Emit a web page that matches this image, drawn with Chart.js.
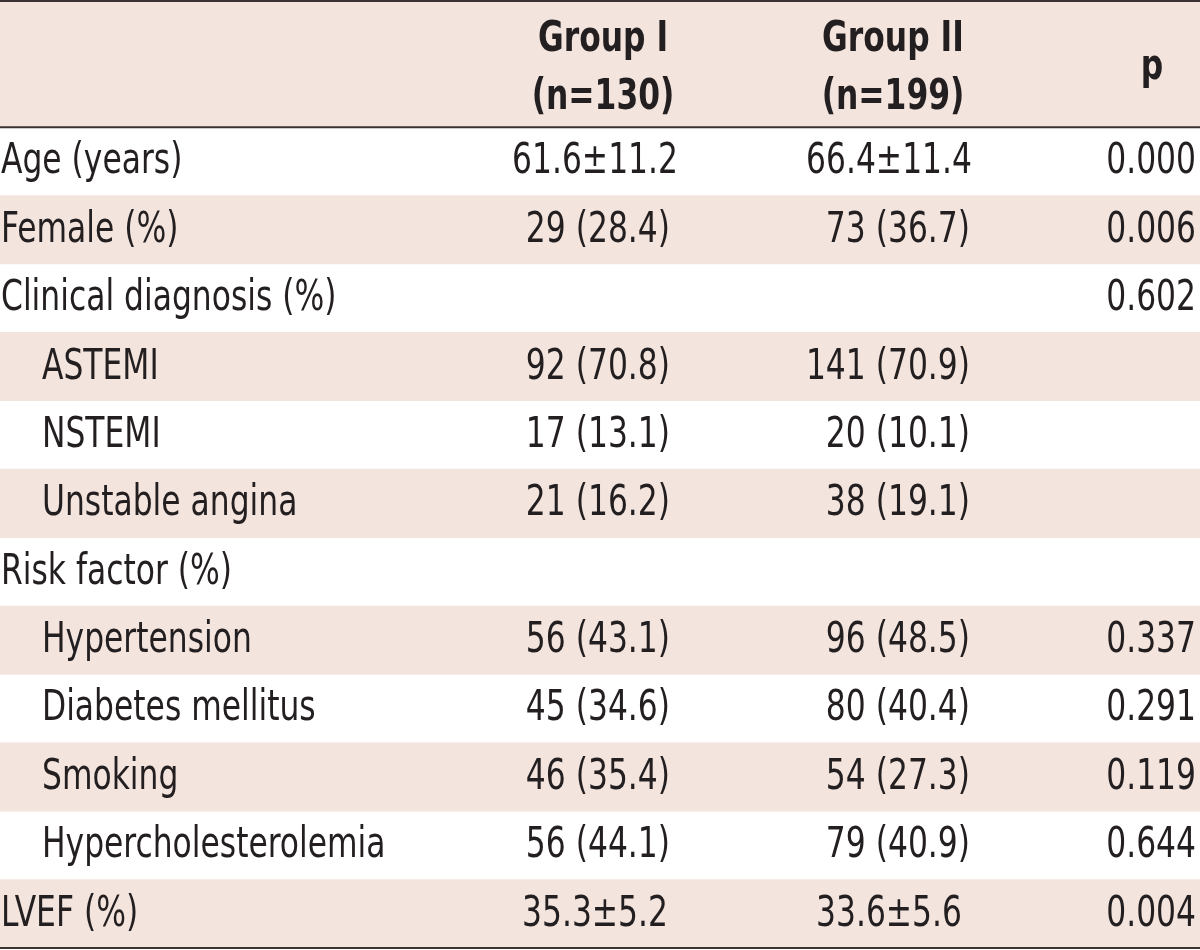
<!DOCTYPE html>
<html>
<head>
<meta charset="utf-8">
<script src="https://cdn.jsdelivr.net/npm/chart.js@4.4.1/dist/chart.umd.min.js"></script>
<style>
  html, body { margin: 0; padding: 0; background: #fff; }
  #wrap { width: 1200px; height: 950px; position: relative; }
</style>
</head>
<body>
<div id="wrap"><canvas id="myChart"></canvas></div>
<script>
// table content
var rowLabels = ['Age (years)', 'Female (%)', 'Clinical diagnosis (%)', 'ASTEMI', 'NSTEMI',
  'Unstable angina', 'Risk factor (%)', 'Hypertension', 'Diabetes mellitus', 'Smoking',
  'Hypercholesterolemia', 'LVEF (%)'];
var indented = [false, false, false, true, true, true, false, true, true, true, true, false];
var group1 = ['61.6\u00b111.2', '29 (28.4)', '', '92 (70.8)', '17 (13.1)', '21 (16.2)', '',
  '56 (43.1)', '45 (34.6)', '46 (35.4)', '56 (44.1)', '35.3\u00b15.2'];
var group2 = ['66.4\u00b111.4', '73 (36.7)', '', '141 (70.9)', '20 (10.1)', '38 (19.1)', '',
  '96 (48.5)', '80 (40.4)', '54 (27.3)', '79 (40.9)', '33.6\u00b15.6'];
var pValues = ['0.000', '0.006', '0.602', '', '', '', '', '0.337', '0.291', '0.119', '0.644', '0.004'];
var headers = [['Group I', '(n=130)'], ['Group II', '(n=199)'], ['p']];

var SHADE = '#f3e4de';
var INK = '#231f20';
var RULE = '#3b3333';
var FONT = '"DejaVu Sans Condensed", "DejaVu Sans", sans-serif';
var SQUEEZE = 0.83; // the original face is narrower than anything installed
var HEADER_TOP = -1.86;
var TABLE_END = 12.03;

// every other body row is shaded, starting with the second
var shadeColors = rowLabels.map(function (l, i) { return i % 2 ? SHADE : 'rgba(0,0,0,0)'; });
var shadeData = rowLabels.map(function (l, i) { return { x: [0, 1200], y: i + 0.5 }; });

function text(ctx, t, px, py) {
  ctx.fillText(t, px, py, ctx.measureText(t).width * SQUEEZE);
}

var tablePlugin = {
  id: 'tableText',
  beforeDatasetsDraw: function (chart) {
    var ctx = chart.ctx, x = chart.scales.x, y = chart.scales.y;
    ctx.save();
    ctx.fillStyle = SHADE;
    var top = y.getPixelForValue(HEADER_TOP);
    ctx.fillRect(x.left, top, x.width, y.getPixelForValue(0) - top);
    ctx.restore();
  },
  afterDatasetsDraw: function (chart) {
    var ctx = chart.ctx, x = chart.scales.x, y = chart.scales.y;
    ctx.save();
    // rules
    ctx.strokeStyle = RULE;
    ctx.lineWidth = 2;
    [HEADER_TOP, 0, 12].forEach(function (v, k) {
      var py = y.getPixelForValue(v) + (k === 0 ? 1 : 0);
      ctx.beginPath();
      ctx.moveTo(x.left, py);
      ctx.lineTo(x.right, py);
      ctx.stroke();
    });

    ctx.fillStyle = INK;
    ctx.textBaseline = 'middle';

    // header
    ctx.font = 'bold 42px ' + FONT;
    ctx.textAlign = 'center';
    var headX = [603, 893, 1152];
    headers.forEach(function (lines, c) {
      if (lines.length === 2) {
        text(ctx, lines[0], x.getPixelForValue(headX[c]), y.getPixelForValue(-1.27));
        text(ctx, lines[1], x.getPixelForValue(headX[c]), y.getPixelForValue(-0.43));
      } else {
        text(ctx, lines[0], x.getPixelForValue(headX[c]), y.getPixelForValue(-0.87));
      }
    });

    // body
    ctx.font = '42px ' + FONT;
    rowLabels.forEach(function (label, i) {
      var py = y.getPixelForValue(i + 0.5) + 1;
      ctx.textAlign = 'left';
      text(ctx, label, x.getPixelForValue(indented[i] ? 42 : 1), py);

      [[group1[i], 670, 595], [group2[i], 970, 889]].forEach(function (cell) {
        if (!cell[0]) return;
        if (cell[0].indexOf('\u00b1') >= 0) {
          ctx.textAlign = 'center';
          text(ctx, cell[0], x.getPixelForValue(cell[2]), py);
        } else {
          ctx.textAlign = 'right';
          text(ctx, cell[0], x.getPixelForValue(cell[1]), py);
        }
      });
      if (pValues[i]) {
        ctx.textAlign = 'right';
        text(ctx, pValues[i], x.getPixelForValue(1196), py);
      }
    });
    ctx.restore();
  }
};

var ctx = document.getElementById('myChart').getContext('2d');
var myChart = new Chart(ctx, {
  type: 'bar',
  data: {
    datasets: [{
      label: 'rows',
      data: shadeData,
      backgroundColor: shadeColors,
      borderWidth: 0,
      barPercentage: 1,
      categoryPercentage: 1
    }]
  },
  options: {
    indexAxis: 'y',
    responsive: true,
    maintainAspectRatio: false,
    animation: false,
    events: [],
    layout: { padding: 0 },
    plugins: { legend: { display: false }, tooltip: { enabled: false } },
    scales: {
      x: { type: 'linear', min: 0, max: 1200, display: false, offset: false },
      y: {
        type: 'linear', min: HEADER_TOP, max: TABLE_END, reverse: true, display: false,
        bounds: 'data', offset: false,
        afterBuildTicks: function (scale) {
          // one tick per body row so bar thickness = one row
          scale.ticks = rowLabels.map(function (l, i) { return { value: i }; });
        }
      }
    }
  },
  plugins: [tablePlugin]
});
</script>
</body>
</html>
